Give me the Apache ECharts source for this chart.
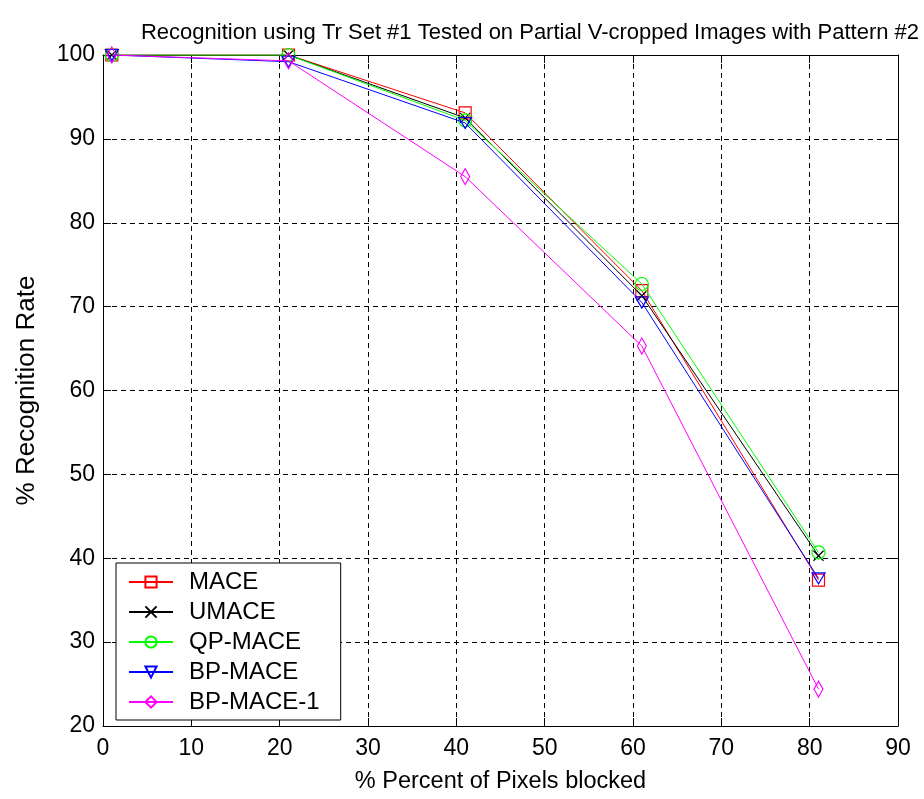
<!DOCTYPE html>
<html>
<head>
<meta charset="utf-8">
<script src="https://cdn.jsdelivr.net/npm/echarts@6/dist/echarts.min.js"></script>
<style>
  html, body { margin: 0; padding: 0; background: #fff; }
  #chart { width: 924px; height: 799px; }
</style>
</head>
<body>
<div id="chart"></div>
<script>
// Fraction of blocked pixels (%) at which each filter was tested
const blocked = [1, 21, 41, 61, 81];

// Recognition rate (%) per filter
const mace      = [100, 100, 93.1, 71.9, 37.4];
const umace     = [100, 100, 92.5, 71.3, 40.3];
const qpMace    = [100, 100, 92.2, 72.7, 40.7];
const bpMace    = [100, 99.2, 91.9, 70.5, 37.6];
const bpMace1   = [100, 99.3, 85.5, 65.3, 24.4];

const seriesNames = ['MACE', 'UMACE', 'QP-MACE', 'BP-MACE', 'BP-MACE-1'];
const xTicks = [0, 10, 20, 30, 40, 50, 60, 70, 80, 90];
const yTicks = [20, 30, 40, 50, 60, 70, 80, 90, 100];

const FONT = "'Liberation Sans', Arial, sans-serif";

const styles = [
  { color: '#ff0000', symbol: 'path://M0,0L10,0L10,10L0,10Z', size: 12 },
  { color: '#000000', symbol: 'path://M0,0L10,10M10,0L0,10', size: 10 },
  { color: '#00ff00', symbol: 'circle', size: 13 },
  { color: '#0000ff', symbol: 'path://M0,0L12,0L6,10Z', size: [13, 11] },
  { color: '#ff00ff', symbol: 'path://M5,0L10,10L5,20L0,10Z', size: [9, 16] }
];

const values = [mace, umace, qpMace, bpMace, bpMace1];

const series = values.map((vals, i) => ({
  name: seriesNames[i],
  type: 'line',
  data: blocked.map((x, j) => [x, vals[j]]),
  symbol: styles[i].symbol,
  symbolSize: styles[i].size,
  showSymbol: true,
  lineStyle: { color: styles[i].color, width: 1 },
  itemStyle: { color: 'rgba(0,0,0,0)', borderColor: styles[i].color, borderWidth: 1.2 },
  emphasis: { disabled: true },
  animation: false,
  z: 3 + i
}));

const axisLabelStyle = { color: '#000', fontFamily: FONT, fontSize: 23 };

const chart = echarts.init(document.getElementById('chart'), null, { renderer: 'canvas' });
chart.setOption({
  backgroundColor: '#fff',
  animation: false,
  title: {
    text: 'Recognition using Tr Set #1 Tested on Partial V-cropped Images with Pattern #2',
    left: 525, top: 17, textAlign: 'center',
    textStyle: { color: '#000', fontFamily: FONT, fontSize: 22, fontWeight: 'normal' }
  },
  grid: { left: 103, right: 26, top: 55, bottom: 67, containLabel: false },
  legend: {
    orient: 'vertical',
    left: 116, top: 563,
    padding: [7, 21, 6, 12],
    itemGap: 6,
    itemWidth: 44, itemHeight: 14,
    backgroundColor: '#fff',
    borderColor: '#000', borderWidth: 1,
    textStyle: { color: '#000', fontFamily: FONT, fontSize: 24, lineHeight: 24, padding: [0, 0, 0, 11] },
    data: seriesNames
  },
  xAxis: [{
    type: 'value', min: 0, max: 90, interval: 10, position: 'bottom',
    name: '% Percent of Pixels blocked', nameLocation: 'middle', nameGap: 44,
    nameTextStyle: { color: '#000', fontFamily: FONT, fontSize: 23.5 },
    axisLine: { onZero: false, lineStyle: { color: '#000', width: 1 } },
    axisTick: { inside: true, length: 8, lineStyle: { color: '#000' } },
    axisLabel: Object.assign({ margin: 11 }, axisLabelStyle),
    splitLine: { show: true, lineStyle: { color: '#000', type: [5, 4], width: 1 } }
  }, {
    type: 'value', min: 0, max: 90, interval: 10, position: 'top',
    axisLine: { onZero: false, lineStyle: { color: '#000', width: 1 } },
    axisTick: { inside: true, length: 8, lineStyle: { color: '#000' } },
    axisLabel: { show: false }, splitLine: { show: false }
  }],
  yAxis: [{
    type: 'value', min: 20, max: 100, interval: 10, position: 'left',
    name: '% Recognition Rate', nameLocation: 'middle', nameGap: 63, nameRotate: 90,
    nameTextStyle: { color: '#000', fontFamily: FONT, fontSize: 26 },
    axisLine: { show: true, onZero: false, lineStyle: { color: '#000', width: 1 } },
    axisTick: { show: true, inside: true, length: 8, lineStyle: { color: '#000' } },
    axisLabel: Object.assign({ margin: 8 }, axisLabelStyle),
    splitLine: { show: true, lineStyle: { color: '#000', type: [5, 4], width: 1 } }
  }, {
    type: 'value', min: 20, max: 100, interval: 10, position: 'right',
    axisLine: { show: true, onZero: false, lineStyle: { color: '#000', width: 1 } },
    axisTick: { show: true, inside: true, length: 8, lineStyle: { color: '#000' } },
    axisLabel: { show: false }, splitLine: { show: false }
  }],
  series: series
});
</script>
</body>
</html>
